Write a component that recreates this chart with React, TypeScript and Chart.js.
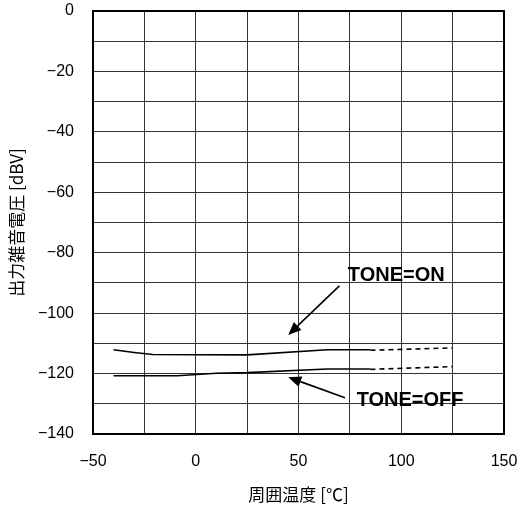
import React, { useEffect, useRef } from "react";
import { Chart, registerables } from "chart.js";

Chart.register(...registerables);

// ON curve (solid, measured range)
const onTemps = [-40, -30, -21, 25, 64, 85];
const onValues = [-112.1, -113.0, -113.7, -113.8, -112.1, -112.1];
// ON extrapolated (dashed)
const onDashTemps = [85, 125];
const onDashValues = [-112.3, -111.5];

// OFF curve (solid)
const offTemps = [-40, -9, 10, 25, 64, 85];
const offValues = [-120.7, -120.7, -119.9, -119.7, -118.5, -118.5];
// OFF extrapolated (dashed)
const offDashTemps = [85, 125];
const offDashValues = [-118.6, -117.7];

// Annotations (data coordinates)
const labelOn = { text: "TONE=ON", x: 74, y: -87.4 };
const labelOff = { text: "TONE=OFF", x: 78.3, y: -128.8 };
const arrowOn = { from: [69.9, -91.0], to: [45.0, -107.2] };
const arrowOff = { from: [72.6, -128.0], to: [45.0, -121.2] };

const xTitle = "周囲温度 [℃]";
const yTitle = "出力雑音電圧 [dBV]";

const toPts = (xs: number[], ys: number[]) => xs.map((x, i) => ({ x, y: ys[i] }));

const fmt = (v: number) => (v < 0 ? "\u2212" + Math.abs(v) : String(v));

const annotPlugin = {
  id: "annot",
  afterDatasetsDraw(chart: any) {
    const { ctx, chartArea, scales } = chart;
    const xs = scales.x;
    const ys = scales.y;
    ctx.save();
    // border
    ctx.strokeStyle = "#000";
    ctx.lineWidth = 2;
    ctx.strokeRect(chartArea.left, chartArea.top, chartArea.right - chartArea.left, chartArea.bottom - chartArea.top);

    const drawArrow = (a: any) => {
      const x1 = xs.getPixelForValue(a.from[0]);
      const y1 = ys.getPixelForValue(a.from[1]);
      const x2 = xs.getPixelForValue(a.to[0]);
      const y2 = ys.getPixelForValue(a.to[1]);
      const ang = Math.atan2(y2 - y1, x2 - x1);
      const hl = 13;
      const hw = 5.5;
      const bx = x2 - hl * Math.cos(ang);
      const by = y2 - hl * Math.sin(ang);
      ctx.strokeStyle = "#000";
      ctx.lineWidth = 1.6;
      ctx.beginPath();
      ctx.moveTo(x1, y1);
      ctx.lineTo(bx, by);
      ctx.stroke();
      ctx.fillStyle = "#000";
      ctx.beginPath();
      ctx.moveTo(x2, y2);
      ctx.lineTo(bx + hw * Math.sin(ang), by - hw * Math.cos(ang));
      ctx.lineTo(bx - hw * Math.sin(ang), by + hw * Math.cos(ang));
      ctx.closePath();
      ctx.fill();
    };
    drawArrow(arrowOn);
    drawArrow(arrowOff);

    ctx.font = "bold 20px 'Liberation Sans', Arial, sans-serif";
    ctx.textAlign = "left";
    ctx.textBaseline = "middle";
    ctx.fillStyle = "#000";
    for (const l of [labelOn, labelOff]) {
      ctx.fillText(l.text, xs.getPixelForValue(l.x), ys.getPixelForValue(l.y));
    }
    ctx.restore();
  },
};

const zeroPad = (s: any) => {
  s.paddingTop = 0;
  s.paddingBottom = 0;
  s.paddingLeft = 0;
  s.paddingRight = 0;
};

export default function App() {
  const ref = useRef<HTMLCanvasElement | null>(null);
  useEffect(() => {
    if (!ref.current) return;
    const lineBase = {
      borderColor: "#000",
      borderWidth: 1.6,
      pointRadius: 0,
      tension: 0,
      fill: false,
    };
    const chart = new Chart(ref.current, {
      type: "line",
      data: {
        datasets: [
          { ...lineBase, label: "ON", data: toPts(onTemps, onValues) },
          { ...lineBase, label: "ON ext", data: toPts(onDashTemps, onDashValues), borderDash: [5, 4] },
          { ...lineBase, label: "OFF", data: toPts(offTemps, offValues) },
          { ...lineBase, label: "OFF ext", data: toPts(offDashTemps, offDashValues), borderDash: [5, 4] },
        ],
      },
      options: {
        animation: false,
        responsive: false,
        maintainAspectRatio: false,
        layout: { padding: { left: 0, top: 11, right: 18, bottom: 0 } },
        plugins: { legend: { display: false }, tooltip: { enabled: false } },
        scales: {
          x: {
            type: "linear",
            min: -50,
            max: 150,
            afterFit: (s: any) => {
              s.height = 72;
              zeroPad(s);
            },
            ticks: {
              stepSize: 25,
              autoSkip: false,
              maxRotation: 0,
              padding: 18,
              color: "#000",
              font: { family: "'Liberation Sans', Arial, sans-serif", size: 16 },
              callback: (v: any) => (Number(v) % 50 === 0 ? fmt(Number(v)) : ""),
            },
            grid: { color: "#333", lineWidth: 1, drawTicks: false },
            border: { display: false },
            title: {
              display: true,
              text: xTitle,
              color: "#000",
              font: { family: "'Noto Sans CJK JP', sans-serif", size: 17 },
              padding: { top: 0, bottom: 1 },
            },
          },
          y: {
            type: "linear",
            min: -140,
            max: 0,
            afterFit: (s: any) => {
              s.width = 93;
              zeroPad(s);
            },
            ticks: {
              stepSize: 10,
              autoSkip: false,
              padding: 19,
              color: "#000",
              font: { family: "'Liberation Sans', Arial, sans-serif", size: 16 },
              callback: (v: any) => (Number(v) % 20 === 0 ? fmt(Number(v)) : ""),
            },
            grid: { color: "#333", lineWidth: 1, drawTicks: false },
            border: { display: false },
            title: {
              display: true,
              text: yTitle,
              color: "#000",
              font: { family: "'Noto Sans CJK JP', sans-serif", size: 17 },
              padding: { top: 6, bottom: 0 },
            },
          },
        },
      },
      plugins: [annotPlugin],
    });
    return () => chart.destroy();
  }, []);
  return (
    <div style={{ position: "fixed", left: 0, top: 0, width: 522, height: 506, background: "#fff" }}>
      <canvas ref={ref} width={522} height={506} style={{ display: "block" }} />
    </div>
  );
}
